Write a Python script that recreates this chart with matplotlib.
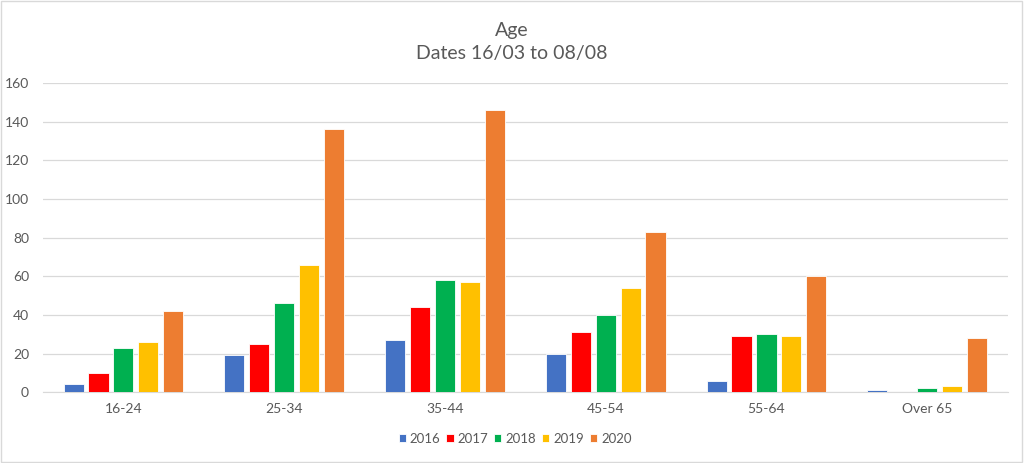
import matplotlib
matplotlib.use('Agg')
import matplotlib.pyplot as plt
import numpy as np
from matplotlib.patches import Rectangle

# Age groups and yearly counts
CATEGORIES = ["16-24", "25-34", "35-44", "45-54", "55-64", "Over 65"]
YEARS = ["2016", "2017", "2018", "2019", "2020"]
V2016 = [4, 19, 27, 20, 6, 1]
V2017 = [10, 25, 44, 31, 29, 0]
V2018 = [23, 46, 58, 40, 30, 2]
V2019 = [26, 66, 57, 54, 29, 3]
V2020 = [42, 136, 146, 83, 60, 28]
COLORS = ["#4472C4", "#FF0000", "#00B050", "#FFC000", "#ED7D31"]

TEXT = "#595959"
plt.rcParams['font.family'] = ['Lato', 'DejaVu Sans']

fig = plt.figure(figsize=(10.24, 4.63), dpi=100)
ax = fig.add_axes([0.042, 0.153, 0.942, 0.668])

x = np.arange(len(CATEGORIES))
slot = 0.155
width = 0.125
series = [V2016, V2017, V2018, V2019, V2020]
for i, (vals, col, yr) in enumerate(zip(series, COLORS, YEARS)):
    ax.bar(x + (i - 2) * slot, vals, width, color=col, edgecolor="white",
           linewidth=0.6, label=yr, zorder=3)

ax.set_xlim(-0.5, len(CATEGORIES) - 0.5)
ax.set_ylim(0, 160)
ax.set_yticks(range(0, 161, 20))
ax.set_xticks(x)
ax.set_xticklabels(CATEGORIES)
ax.grid(axis="y", color="#D9D9D9", linewidth=0.9, zorder=0)
for s in ["top", "right", "left"]:
    ax.spines[s].set_visible(False)
ax.spines["bottom"].set_color("#D9D9D9")
ax.tick_params(axis="both", length=0, colors=TEXT, labelsize=10)
ax.tick_params(axis="x", pad=8)
ax.tick_params(axis="y", pad=10)

fig.text(0.5, 0.935, "Age", ha="center", va="center", fontsize=14, color=TEXT)
fig.text(0.5, 0.885, "Dates 16/03 to 08/08", ha="center", va="center",
         fontsize=14, color=TEXT)

fig.legend(loc="center", bbox_to_anchor=(0.503, 0.052), ncol=5, frameon=False,
           fontsize=9.5, handlelength=0.55, handleheight=0.55, columnspacing=0.45,
           handletextpad=0.3, labelcolor=TEXT)

fig.patches.append(Rectangle((0.001, 0.002), 0.997, 0.995, transform=fig.transFigure,
                             fill=False, edgecolor="#D9D9D9", linewidth=1))

fig.savefig("out.png", dpi=100)
